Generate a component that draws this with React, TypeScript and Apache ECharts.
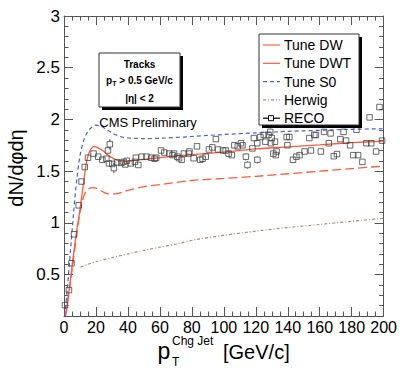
import React, { useEffect, useRef } from "react";
import * as echarts from "echarts";

const FONT = '"Liberation Sans", Arial, Helvetica, sans-serif';

// ---- axis ticks ----
const yMajorTicks = [0.5, 1, 1.5, 2, 2.5, 3];
const yMinorTicks = [0.2, 0.3, 0.4, 0.6, 0.7, 0.8, 0.9, 1.1, 1.2, 1.3, 1.4, 1.6, 1.7, 1.8, 1.9, 2.1, 2.2, 2.3, 2.4, 2.6, 2.7, 2.8, 2.9];

// ---- Tune DW (red solid) ----
const dwX = [1, 2, 4, 6, 8, 10, 12, 14, 16, 19, 22, 25, 28, 32, 36, 40, 50, 60, 80, 100, 120, 140, 160, 180, 200];
const dwY = [0.12, 0.22, 0.45, 0.7, 0.93, 1.13, 1.36, 1.58, 1.69, 1.74, 1.72, 1.69, 1.65, 1.615, 1.6, 1.6, 1.615, 1.63, 1.66, 1.685, 1.715, 1.735, 1.755, 1.775, 1.79];

// ---- Tune DWT (red dashed, lower) ----
const dwtX = [1, 2, 4, 6, 8, 10, 12, 14, 16, 18, 20, 22, 25, 28, 32, 36, 40, 50, 60, 80, 100, 120, 140, 160, 180, 200];
const dwtY = [0.1, 0.2, 0.42, 0.66, 0.9, 1.1, 1.24, 1.31, 1.335, 1.34, 1.335, 1.32, 1.295, 1.28, 1.28, 1.295, 1.315, 1.35, 1.37, 1.41, 1.43, 1.45, 1.475, 1.5, 1.525, 1.55];

// ---- Tune S0 (blue dashed) ----
const s0X = [0.5, 2, 4, 6, 8, 10, 12, 14, 17, 20, 23, 26, 30, 35, 40, 50, 60, 80, 100, 120, 140, 160, 180, 200];
const s0Y = [0.1, 0.35, 0.72, 1.1, 1.42, 1.65, 1.78, 1.86, 1.92, 1.945, 1.935, 1.91, 1.87, 1.835, 1.822, 1.815, 1.818, 1.835, 1.855, 1.87, 1.885, 1.895, 1.905, 1.91];

// ---- Herwig (dash-dot) ----
const hwX = [10.4, 15, 20, 30, 40, 50, 60, 70, 83, 100, 120, 140, 160, 180, 200];
const hwY = [0.573, 0.6, 0.625, 0.665, 0.7, 0.735, 0.765, 0.795, 0.84, 0.88, 0.92, 0.955, 0.985, 1.015, 1.045];

// ---- RECO data ----
const recoX = [0.6, 3.1, 4.7, 6.3, 9.2, 11, 13, 15, 18.5, 21.4, 24, 26.5, 27.5, 28.1, 28.7, 30.2, 31.2, 33.2, 35.9, 37.3, 38.3, 39.3, 41.8, 44.4, 45, 46.5, 48.5, 51.6, 54.6, 56.7, 57.7, 60.7, 62.8, 65.9, 67.9, 68.9, 70.9, 72, 73.6, 75, 78, 78.5, 81.1, 83.2, 85.2, 86.7, 88.7, 90.7, 92.8, 95, 96.4, 99.5, 101.1, 103, 105, 106.6, 108.7, 110.7, 111.7, 113.8, 114.8, 117.9, 118.8, 120.9, 121, 122.9, 125, 126, 128, 129, 129.5, 130, 131, 132, 132.5, 133, 139.3, 139.8, 141, 143.3, 145.4, 147.4, 150.5, 153.5, 154.5, 156.6, 157.6, 160.7, 162.7, 165.7, 166.8, 168.8, 170.8, 172.9, 174.9, 176.5, 179, 181, 183, 184, 186.7, 189.2, 191.2, 192.2, 195.3, 197.4, 199];
const recoY = [0.205, 0.35, 0.61, 0.89, 1.17, 1.4, 1.54, 1.63, 1.67, 1.64, 1.61, 1.62, 1.7, 1.575, 1.76, 1.57, 1.53, 1.585, 1.58, 1.59, 1.565, 1.6, 1.575, 1.59, 1.63, 1.56, 1.64, 1.64, 1.63, 1.62, 1.63, 1.7, 1.68, 1.67, 1.655, 1.67, 1.64, 1.625, 1.61, 1.67, 1.67, 1.69, 1.625, 1.74, 1.61, 1.62, 1.64, 1.71, 1.73, 1.81, 1.71, 1.7, 1.7, 1.67, 1.655, 1.75, 1.74, 1.77, 1.75, 1.64, 1.56, 1.72, 1.82, 1.77, 1.61, 1.83, 1.85, 1.785, 1.85, 1.88, 1.77, 1.82, 1.67, 1.785, 1.655, 1.69, 1.83, 1.75, 1.83, 1.61, 1.64, 1.655, 1.69, 1.82, 1.7, 1.85, 1.85, 1.69, 1.88, 1.77, 1.865, 1.645, 1.665, 1.81, 1.88, 1.795, 1.75, 1.655, 1.9, 1.655, 1.59, 1.77, 2.02, 1.77, 1.69, 2.12, 1.795];
const recoErr = [0, 0, 0, 0, 0, 0, 0, 0, 0, 0, 0, 0, 0, 0, 0.05, 0, 0.05, 0, 0, 0, 0, 0, 0, 0, 0, 0, 0, 0, 0, 0, 0, 0, 0, 0, 0, 0, 0, 0, 0, 0, 0, 0, 0, 0, 0, 0, 0, 0, 0, 0, 0, 0, 0, 0, 0, 0, 0, 0, 0, 0.035, 0.035, 0, 0, 0, 0.035, 0, 0, 0, 0, 0.035, 0, 0, 0, 0, 0, 0, 0, 0, 0, 0, 0, 0, 0, 0, 0, 0, 0, 0, 0, 0, 0, 0, 0, 0, 0, 0, 0, 0, 0, 0, 0, 0, 0, 0, 0, 0, 0];

const RED = "#ff5a3c";
const BLUE = "#3f5ff0";
const BROWN = "#a98a7c";

const zip = (xs: number[], ys: number[]) => xs.map((x, i) => [x, ys[i]]);

export default function App() {
  const ref = useRef<HTMLDivElement>(null);

  useEffect(() => {
    if (!ref.current) return;
    const chart = echarts.init(ref.current, null, { renderer: "svg" });

    const axisLineStyle = { color: "#555", width: 1 };
    const labelStyle = { fontFamily: FONT, fontSize: 16, color: "#000" };

    const errData = recoX
      .map((x, i) => [x, recoY[i], recoErr[i]])
      .filter((d) => d[2] > 0);

    const makeY = (position: string, major: boolean, showLabel: boolean) => ({
      type: "value",
      min: 0.1,
      max: 3,
      position,
      axisLine: { show: major, lineStyle: axisLineStyle },
      axisTick: {
        show: true,
        inside: true,
        length: major ? 9 : 4.5,
        lineStyle: axisLineStyle,
        customValues: major ? yMajorTicks : yMinorTicks,
      },
      axisLabel: showLabel
        ? { show: true, margin: 4, customValues: yMajorTicks, ...labelStyle, fontSize: 17 }
        : { show: false },
      splitLine: { show: false },
    });

    const makeX = (position: string, showLabel: boolean) => ({
      type: "value",
      min: 0,
      max: 200,
      interval: 20,
      position,
      axisLine: { show: true, lineStyle: axisLineStyle },
      axisTick: { show: true, inside: true, length: 9, lineStyle: axisLineStyle },
      minorTick: { show: true, splitNumber: 4, length: 4.5, lineStyle: axisLineStyle },
      axisLabel: showLabel ? { show: true, margin: 3, ...labelStyle } : { show: false },
      splitLine: { show: false },
      minorSplitLine: { show: false },
    });

    const legendTop = 45;
    const legendStep = 18.3;
    const legendItems: any[] = [];
    const names = ["Tune DW", "Tune DWT", "Tune S0", "Herwig", "RECO"];
    const styles: any[] = [
      { stroke: RED, lineWidth: 1.2 },
      { stroke: RED, lineWidth: 1.2 },
      { stroke: BLUE, lineWidth: 1.2, lineDash: [4, 3] },
      { stroke: BROWN, lineWidth: 1.2, lineDash: [3, 2, 1, 2] },
      { stroke: "#000", lineWidth: 1.2 },
    ];
    names.forEach((n, i) => {
      const y = legendTop + i * legendStep;
      legendItems.push({
        type: "line",
        shape: { x1: 263, y1: y, x2: 280, y2: y },
        style: styles[i],
        z: 101,
      });
      legendItems.push({
        type: "text",
        x: 284,
        y,
        style: { text: n, fontFamily: FONT, fontSize: 14, fill: "#000", align: "left", verticalAlign: "middle" },
        z: 101,
      });
    });
    const recoLegY = legendTop + 4 * legendStep;
    legendItems.push({
      type: "rect",
      shape: { x: 268.5, y: recoLegY - 2.5, width: 5, height: 5 },
      style: { fill: "#fff", stroke: "#000", lineWidth: 1 },
      z: 102,
    });

    const option: any = {
      animation: false,
      grid: { left: 64, top: 16, right: 9, bottom: 60, show: false },
      xAxis: [makeX("bottom", true), makeX("top", false)],
      yAxis: [
        makeY("left", true, true),
        makeY("left", false, false),
        makeY("right", true, false),
        makeY("right", false, false),
      ],
      series: [
        {
          name: "Herwig",
          type: "line",
          data: zip(hwX, hwY),
          smooth: 0.3,
          showSymbol: false,
          lineStyle: { color: BROWN, width: 1.2, type: [3, 2, 1, 2] },
          z: 2,
        },
        {
          name: "Tune DWT",
          type: "line",
          data: zip(dwtX, dwtY),
          smooth: 0.3,
          showSymbol: false,
          lineStyle: { color: RED, width: 1.3, type: [9, 4] },
          z: 2,
        },
        {
          name: "Tune S0",
          type: "line",
          data: zip(s0X, s0Y),
          smooth: 0.3,
          showSymbol: false,
          lineStyle: { color: BLUE, width: 1.2, type: [4, 3] },
          z: 2,
        },
        {
          name: "Tune DW",
          type: "line",
          data: zip(dwX, dwY),
          smooth: 0.3,
          showSymbol: false,
          lineStyle: { color: RED, width: 1.3 },
          z: 3,
        },
        {
          name: "RECO",
          type: "scatter",
          data: zip(recoX, recoY),
          symbol: "rect",
          symbolSize: 5.5,
          itemStyle: { color: "rgba(0,0,0,0)", borderColor: "#444", borderWidth: 1 },
          z: 4,
        },
        {
          name: "RECO errors",
          type: "custom",
          data: errData,
          renderItem: (params: any, api: any) => {
            const x = api.value(0);
            const y = api.value(1);
            const e = api.value(2);
            const top = api.coord([x, y + e]);
            const bot = api.coord([x, y - e]);
            const mid = api.coord([x, y]);
            return {
              type: "group",
              children: [
                { type: "line", shape: { x1: top[0], y1: top[1], x2: mid[0], y2: mid[1] - 3 }, style: { stroke: "#444", lineWidth: 1 } },
                { type: "line", shape: { x1: mid[0], y1: mid[1] + 3, x2: bot[0], y2: bot[1] }, style: { stroke: "#444", lineWidth: 1 } },
              ],
            };
          },
          z: 4,
        },
      ],
      graphic: [
        // info box with shadow
        { type: "rect", shape: { x: 102, y: 56, width: 81, height: 54 }, style: { fill: "#000" }, z: 100 },
        { type: "rect", shape: { x: 99, y: 53, width: 81, height: 54 }, style: { fill: "#fff", stroke: "#333", lineWidth: 1 }, z: 100 },
        {
          type: "text", x: 139.5, y: 64,
          style: { text: "Tracks", fontFamily: FONT, fontSize: 10, fontWeight: "bold", fill: "#000", align: "center", verticalAlign: "middle" },
          z: 101,
        },
        {
          type: "text", x: 139.5, y: 80,
          style: {
            text: "{n|p}{s|T}{n| > 0.5 GeV/c}",
            align: "center",
            verticalAlign: "middle",
            rich: {
              n: { fontFamily: FONT, fontSize: 10, fontWeight: "bold", fill: "#000", lineHeight: 14, verticalAlign: "middle" },
              s: { fontFamily: FONT, fontSize: 7, fontWeight: "bold", fill: "#000", lineHeight: 7, verticalAlign: "bottom" },
            },
          },
          z: 101,
        },
        {
          type: "text", x: 139.5, y: 98,
          style: { text: "|\u03b7| < 2", fontFamily: FONT, fontSize: 10, fontWeight: "bold", fill: "#000", align: "center", verticalAlign: "middle" },
          z: 101,
        },
        {
          type: "text", x: 148, y: 122,
          style: { text: "CMS Preliminary", fontFamily: FONT, fontSize: 13, fill: "#000", align: "center", verticalAlign: "middle" },
          z: 101,
        },
        // legend box with shadow
        { type: "rect", shape: { x: 262, y: 37, width: 100, height: 91 }, style: { fill: "#000" }, z: 100 },
        { type: "rect", shape: { x: 259, y: 34, width: 100, height: 91 }, style: { fill: "#fff", stroke: "#333", lineWidth: 1 }, z: 100 },
        ...legendItems,
        // y axis title
        {
          type: "text", x: 16, y: 168, rotation: Math.PI / 2,
          style: { text: "dN/d\u03c6d\u03b7", fontFamily: FONT, fontSize: 20, fill: "#000", align: "center", verticalAlign: "middle" },
        },
        // x axis title
        {
          type: "text", x: 157.5, y: 351,
          style: { text: "p", fontFamily: FONT, fontSize: 23, fill: "#000", align: "left", verticalAlign: "middle" },
        },
        {
          type: "text", x: 172, y: 362,
          style: { text: "T", fontFamily: FONT, fontSize: 12, fill: "#000", align: "left", verticalAlign: "middle" },
        },
        {
          type: "text", x: 172, y: 341,
          style: { text: "Chg Jet", fontFamily: FONT, fontSize: 12, fill: "#000", align: "left", verticalAlign: "middle" },
        },
        {
          type: "text", x: 223, y: 352,
          style: { text: "[GeV/c]", fontFamily: FONT, fontSize: 20, fill: "#000", align: "left", verticalAlign: "middle" },
        },
      ],
    };

    chart.setOption(option);
    return () => chart.dispose();
  }, []);

  return (
    <div
      ref={ref}
      style={{ position: "fixed", left: 0, top: 0, width: 400, height: 376, background: "#fff" }}
    />
  );
}
